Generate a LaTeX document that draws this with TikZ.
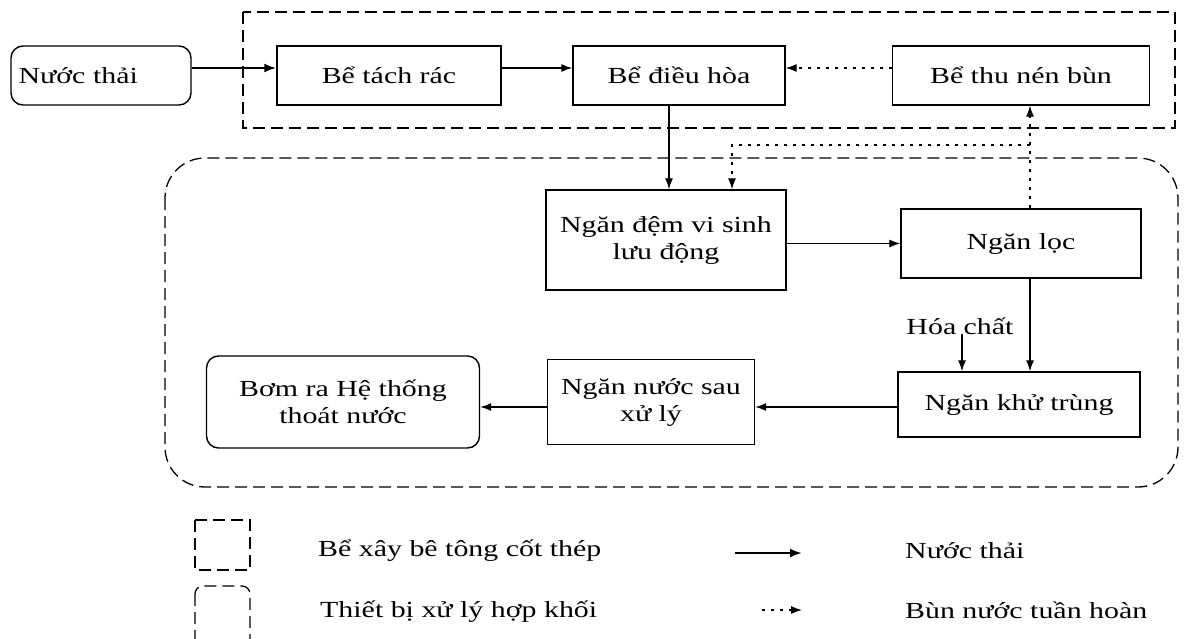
\documentclass[tikz,border=0pt]{standalone}
\usepackage{fontspec}
\setmainfont{Liberation Serif}[FakeStretch=1.3]
\usetikzlibrary{arrows.meta,calc}
\begin{document}
\begin{tikzpicture}[x=1pt,y=-1pt,
  font=\fontsize{23}{27}\selectfont,
  box/.style={draw,line width=1.4pt,inner sep=4pt,align=center},
  rbox/.style={box,rounded corners=12pt},
  flow/.style={line width=1.3pt,-{Latex[length=11pt,width=8pt]}},
  mainflow/.style={line width=2.2pt,-{Latex[length=12pt,width=9pt]}},
  sludge/.style={line width=1.2pt,dash pattern=on 3pt off 6pt},
  sludgearrow/.style={sludge,-{Latex[length=11pt,width=8pt]}},
  concrete/.style={line width=1.3pt,dash pattern=on 12pt off 6pt},
  unit/.style={concrete,rounded corners=40pt},
  lbl/.style={anchor=west,inner sep=0pt}
]
\useasboundingbox (0,0) rectangle (1184,638);

% enclosures
\draw[concrete] (243,12) rectangle (1175,128);
\draw[unit] (165,158) rectangle (1178,487);

% top row
\node[rbox,minimum width=180pt,minimum height=59pt,text width=165pt,align=left] (nt) at (101,75.5) {Nước thải};
\node[box,minimum width=224pt,minimum height=59pt] (tach) at (389,75.5) {Bể tách rác};
\node[box,minimum width=212pt,minimum height=59pt] (dieu) at (679,75.5) {Bể điều hòa};
\node[box,minimum width=257pt,minimum height=59pt] (thu) at (1021,75.5) {Bể thu nén bùn};

% middle row
\node[box,minimum width=240pt,minimum height=100pt] (dem) at (666,240) {Ngăn đệm vi sinh\\lưu động};
\node[box,minimum width=240pt,minimum height=69pt] (loc) at (1021,243.5) {Ngăn lọc};

% bottom row
\node[box,minimum width=242pt,minimum height=65pt] (khu) at (1019,404.5) {Ngăn khử trùng};
\node[box,minimum width=207pt,minimum height=85pt] (nuoc) at (651,402) {Ngăn nước sau\\xử lý};
\node[rbox,minimum width=273pt,minimum height=92pt] (bom) at (343,402) {Bơm ra Hệ thống\\thoát nước};
\node[inner sep=0pt] (hoa) at (960,326) {Hóa chất};

% routing points
\coordinate (r) at (0,68);
\coordinate (j) at (1030,145);
\coordinate (k) at (732,145);
\coordinate (d) at (669,0);
\coordinate (m) at (1030,0);
\coordinate (h) at (962,334);
\coordinate (w) at (0,407);

% water flow
\draw[mainflow] (nt.east |- r) -- (tach.west |- r);
\draw[flow] (tach.east |- r) -- (dieu.west |- r);
\draw[flow] (d |- dieu.south) -- (d |- dem.north);
\draw[flow] (dem.east |- loc) -- (loc.west);
\draw[flow] (m |- loc.south) -- (m |- khu.north);
\draw[flow] (h) -- (h |- khu.north);
\draw[flow] (khu.west |- w) -- (nuoc.east |- w);
\draw[flow] (nuoc.west |- w) -- (bom.east |- w);

% sludge return
\draw[sludgearrow] (thu.west |- r) -- (dieu.east |- r);
\draw[sludgearrow] (j |- loc.north) -- (j |- thu.south);
\draw[sludgearrow] (j) -- (k) -- (k |- dem.north);

% legend
\draw[concrete] (195,520) rectangle (250,570);
\draw[concrete,rounded corners=8pt] (195,586) rectangle (250,650);
\node[lbl] (l1) at (318,551) {Bể xây bê tông cốt thép};
\node[lbl] (l2) at (320,612) {Thiết bị xử lý hợp khối};
\coordinate (a1) at (735,553);
\coordinate (a2) at (802,553);
\coordinate (b1) at (762,610);
\coordinate (b2) at (802,610);
\draw[mainflow] (a1) -- (a2);
\draw[sludgearrow] (b1) -- (b2);
\node[lbl] (l3) at (905,551) {Nước thải};
\node[lbl] (l4) at (905,610) {Bùn nước tuần hoàn};
\end{tikzpicture}
\end{document}
